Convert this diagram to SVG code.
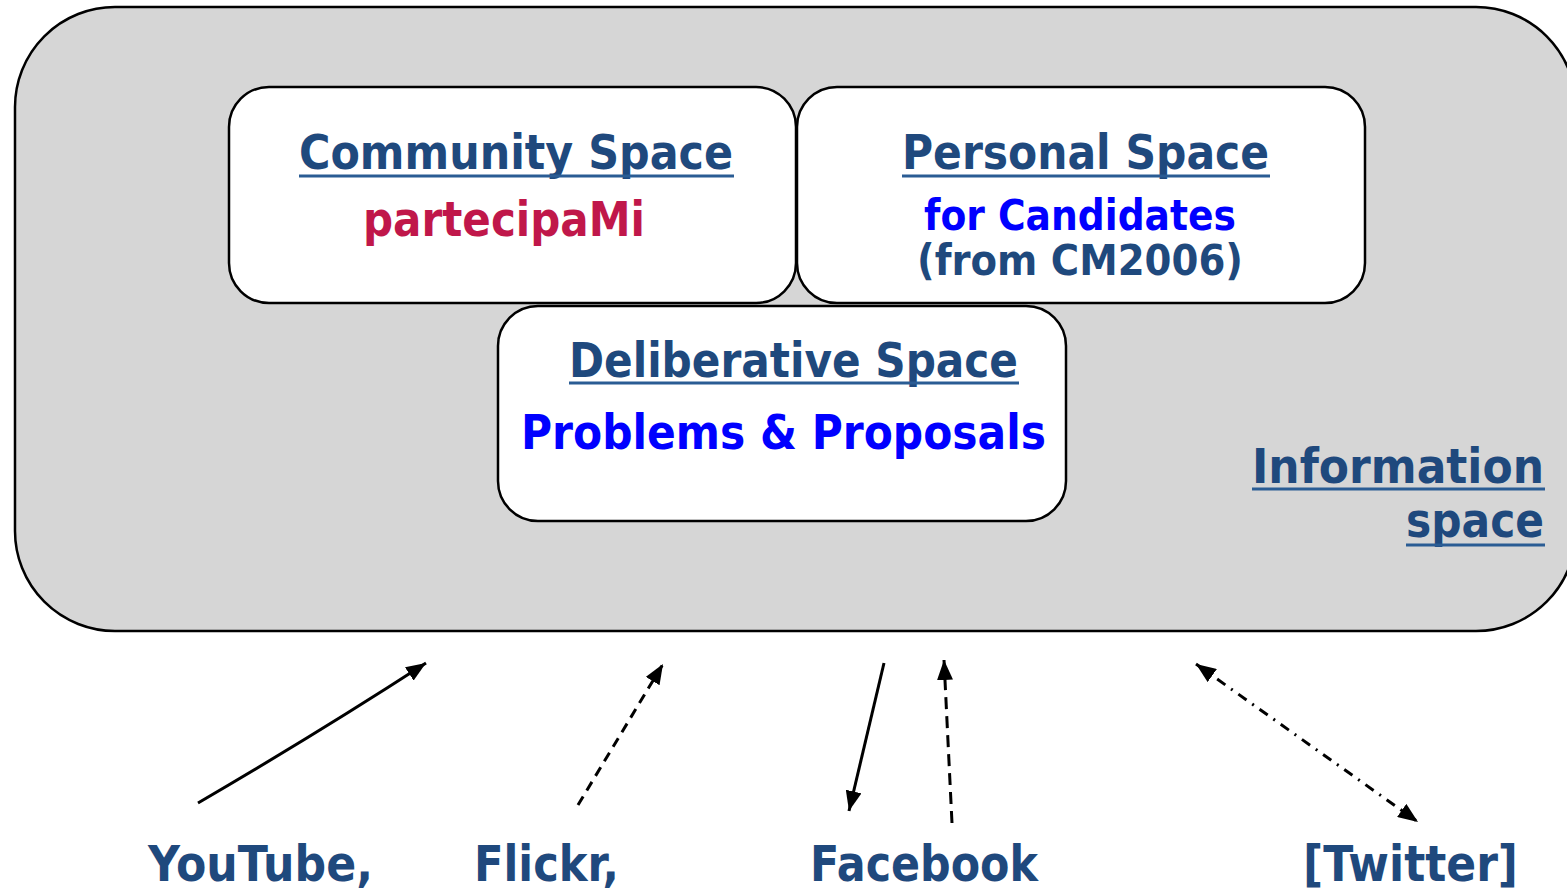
<svg xmlns="http://www.w3.org/2000/svg" width="1567" height="890" viewBox="0 0 1567 890">
<style>
.box{fill:#ffffff;stroke:#000000;stroke-width:2.5}
.outer{fill:#d6d6d6;stroke:#000000;stroke-width:2.5}
text{font-family:"DejaVu Sans","Liberation Sans",sans-serif;font-weight:bold}
.hd{fill:#1f497d;font-size:48px}
.ul{stroke:#2a5c94;stroke-width:3}
.red{fill:#c0174a;font-size:48px}
.blue{fill:#0000ff}
.dk{fill:#1f497d}
.conn{stroke:#000000;stroke-width:3;fill:none}
</style>
<defs>
<marker id="ah" viewBox="0 0 20 16" refX="20" refY="8" markerWidth="20" markerHeight="16" markerUnits="userSpaceOnUse" orient="auto-start-reverse">
<path d="M0,0 L20,8 L0,16 Z" fill="#000000"/>
</marker>
</defs>
<g id="information-space">
<rect class="outer" x="15" y="7" width="1561" height="624" rx="100" ry="100"/>
<text class="hd" x="1544" y="483" text-anchor="end" textLength="292" lengthAdjust="spacingAndGlyphs">Information</text>
<line class="ul" x1="1252" y1="489" x2="1545" y2="489"/>
<text class="hd" x="1544" y="537" text-anchor="end" textLength="138" lengthAdjust="spacingAndGlyphs">space</text>
<line class="ul" x1="1406" y1="545" x2="1545" y2="545"/>
</g>
<g id="community-space">
<rect class="box" x="229" y="87" width="567" height="216" rx="40" ry="40"/>
<text class="hd" x="299" y="169" textLength="434" lengthAdjust="spacingAndGlyphs">Community Space</text>
<line class="ul" x1="299" y1="176" x2="734" y2="176"/>
<text class="red" x="363" y="236" textLength="282" lengthAdjust="spacingAndGlyphs">partecipaMi</text>
</g>
<g id="personal-space">
<rect class="box" x="797" y="87" width="568" height="216" rx="40" ry="40"/>
<text class="hd" x="902" y="169" textLength="367" lengthAdjust="spacingAndGlyphs">Personal Space</text>
<line class="ul" x1="902" y1="176" x2="1270" y2="176"/>
<text class="blue" x="924" y="230" font-size="42" textLength="312" lengthAdjust="spacingAndGlyphs">for Candidates</text>
<text class="dk" x="917" y="275" font-size="42" textLength="326" lengthAdjust="spacingAndGlyphs">(from CM2006)</text>
</g>
<g id="deliberative-space">
<rect class="box" x="498" y="306" width="568" height="215" rx="40" ry="40"/>
<text class="hd" x="569" y="377" textLength="449" lengthAdjust="spacingAndGlyphs">Deliberative Space</text>
<line class="ul" x1="569" y1="383" x2="1019" y2="383"/>
<text class="blue" x="521" y="449" font-size="48" textLength="525" lengthAdjust="spacingAndGlyphs">Problems &amp; Proposals</text>
</g>
<g id="youtube"><text class="dk" x="148" y="881" font-size="49" textLength="225" lengthAdjust="spacingAndGlyphs">YouTube,</text></g>
<g id="flickr"><text class="dk" x="474" y="881" font-size="49" textLength="145" lengthAdjust="spacingAndGlyphs">Flickr,</text></g>
<g id="facebook"><text class="dk" x="810" y="881" font-size="49" textLength="228" lengthAdjust="spacingAndGlyphs">Facebook</text></g>
<g id="twitter"><text class="dk" x="1303" y="881" font-size="49" textLength="215" lengthAdjust="spacingAndGlyphs">[Twitter]</text></g>
<g id="connectors">
<path class="conn" d="M198,803 Q318,733 426,663" marker-end="url(#ah)"/>
<path class="conn" d="M578,805 L663,664" stroke-dasharray="10 7" marker-end="url(#ah)"/>
<path class="conn" d="M884,663 L849,811" marker-end="url(#ah)"/>
<path class="conn" d="M952,823 L944,660" stroke-dasharray="12 7" marker-end="url(#ah)"/>
<path class="conn" d="M1196,664 L1418,822" stroke-dasharray="10 7 2 7" marker-start="url(#ah)" marker-end="url(#ah)"/>
</g>
</svg>
